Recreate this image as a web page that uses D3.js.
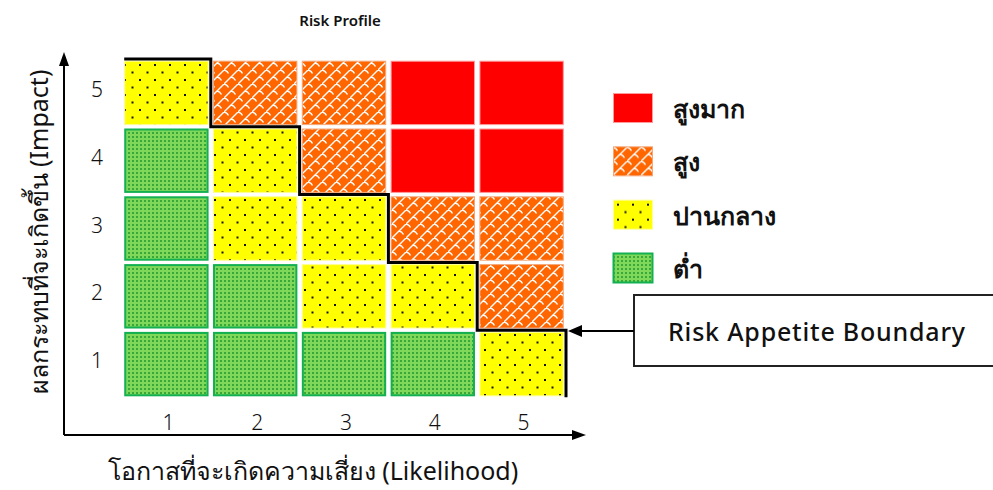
<!DOCTYPE html>
<html>
<head>
<meta charset="utf-8">
<script src="https://cdn.jsdelivr.net/npm/d3@7/dist/d3.min.js"></script>
<style>
  html, body { margin: 0; padding: 0; background: #fff; }
  svg text { font-family: "Noto Sans", "DejaVu Sans", sans-serif; fill: #111; }
</style>
</head>
<body>
<svg id="chart" width="993" height="490"></svg>
<script>
// Axis categories
const likelihood = [1, 2, 3, 4, 5];
const impact = [5, 4, 3, 2, 1];

// Risk levels (legend order) and their fill styles
const levelNames = ["สูงมาก", "สูง", "ปานกลาง", "ต่ำ"];
const levelKeys = ["vhigh", "high", "med", "low"];

// Risk level per cell, rows ordered by impact 5 → 1, columns by likelihood 1 → 5
const riskMatrix = [
  ["med", "high", "high", "vhigh", "vhigh"],
  ["low", "med",  "high", "vhigh", "vhigh"],
  ["low", "med",  "med",  "high",  "high"],
  ["low", "low",  "med",  "med",   "high"],
  ["low", "low",  "low",  "low",   "med"]
];

// Highest impact level still inside the appetite, per likelihood column
const appetiteLevel = [5, 4, 3, 2, 1];

const svg = d3.select("#chart");
const defs = svg.append("defs");

// Dotted yellow fill
const pMed = defs.append("pattern").attr("id", "p-med").attr("patternUnits", "userSpaceOnUse")
  .attr("width", 15).attr("height", 15).attr("x", 2).attr("y", 2);
pMed.append("rect").attr("width", 15).attr("height", 15).attr("fill", "#ffff00");
pMed.append("rect").attr("x", 2).attr("y", 2).attr("width", 2).attr("height", 2).attr("fill", "#111");
pMed.append("rect").attr("x", 9.5).attr("y", 9.5).attr("width", 2).attr("height", 2).attr("fill", "#111");

// Fine green grid fill
const pLow = defs.append("pattern").attr("id", "p-low").attr("patternUnits", "userSpaceOnUse")
  .attr("width", 4).attr("height", 4);
pLow.append("rect").attr("width", 4).attr("height", 4).attr("fill", "#80d85a");
pLow.append("rect").attr("width", 2).attr("height", 2).attr("fill", "#38a838");

// Orange diagonal-brick fill
const pHigh = defs.append("pattern").attr("id", "p-high").attr("patternUnits", "userSpaceOnUse")
  .attr("width", 14).attr("height", 14);
pHigh.append("rect").attr("width", 14).attr("height", 14).attr("fill", "#ff6600");
pHigh.append("path")
  .attr("d", "M-1,15 L15,-1 M7,7 Q10,7.5 11.5,10.5 M0,0 Q3,0.5 4.5,3.5 M14,14 Q17,14.5 18.5,17.5")
  .attr("stroke", "#fff").attr("stroke-width", 1.4).attr("fill", "none");

const fills = { vhigh: "#ff0000", high: "url(#p-high)", med: "url(#p-med)", low: "url(#p-low)" };
const strokes = { vhigh: "#ff9a9a", high: "#f3a77a", med: "#ffff90", low: "#12b050" };
const strokeW = { vhigh: 1, high: 1, med: 1, low: 2 };

// Scales
const x = d3.scaleBand().domain(likelihood).range([122, 566]).paddingInner(0.05).paddingOuter(0.025);
const y = d3.scaleBand().domain(impact).range([59, 398]).paddingInner(0.05).paddingOuter(0.025);

// Cells
const cells = [];
riskMatrix.forEach((row, i) => row.forEach((lvl, j) => cells.push({ imp: impact[i], lik: likelihood[j], lvl })));
svg.append("g").selectAll("rect").data(cells).join("rect")
  .attr("x", d => x(d.lik) + strokeW[d.lvl] / 2)
  .attr("y", d => y(d.imp) + strokeW[d.lvl] / 2)
  .attr("width", d => x.bandwidth() - strokeW[d.lvl])
  .attr("height", d => y.bandwidth() - strokeW[d.lvl])
  .attr("fill", d => fills[d.lvl])
  .attr("stroke", d => strokes[d.lvl])
  .attr("stroke-width", d => strokeW[d.lvl]);

// Risk appetite boundary (step line between acceptable and high cells)
const gx = x.step() * x.paddingInner() / 2;
const gy = y.step() * y.paddingInner() / 2;
const pts = [];
likelihood.forEach((l, i) => {
  const yy = y(appetiteLevel[i]) - gy;
  pts.push([x(l) - (i === 0 ? 0 : gx), yy]);
  pts.push([x(l) + x.bandwidth() + gx, yy]);
});
pts.push([x(likelihood[likelihood.length - 1]) + x.bandwidth() + gx, y(impact[impact.length - 1]) + y.bandwidth() + 1]);
svg.append("path").attr("d", d3.line()(pts))
  .attr("fill", "none").attr("stroke", "#000").attr("stroke-width", 3);

// Axes with arrowheads
const axisX0 = 64, axisY0 = 435;
svg.append("path").attr("d", `M${axisX0},${axisY0} L${axisX0},60 M${axisX0},${axisY0} L578,${axisY0}`)
  .attr("stroke", "#000").attr("stroke-width", 2).attr("fill", "none");
svg.append("path").attr("d", `M${axisX0},52 L${axisX0 - 5},66 L${axisX0 + 5},66 Z`).attr("fill", "#000");
svg.append("path").attr("d", `M586,${axisY0} L572,${axisY0 - 5} L572,${axisY0 + 5} Z`).attr("fill", "#000");

// Tick labels
svg.append("g").selectAll("text").data(likelihood).join("text")
  .attr("x", d => x(d) + x.bandwidth() / 2 + 2).attr("y", 422)
  .attr("text-anchor", "middle").attr("dominant-baseline", "central")
  .attr("font-size", 21).attr("font-weight", 300).text(d => d);
svg.append("g").selectAll("text").data(impact).join("text")
  .attr("x", 97).attr("y", d => y(d) + y.bandwidth() / 2 - 4)
  .attr("text-anchor", "middle").attr("dominant-baseline", "central")
  .attr("font-size", 21).attr("font-weight", 300).text(d => d);

// Titles
svg.append("text").attr("x", 340).attr("y", 20).attr("text-anchor", "middle")
  .attr("dominant-baseline", "central").attr("font-size", 15).attr("font-weight", 600).text("Risk Profile");
svg.append("text").attr("transform", "translate(38,232) rotate(-90)").attr("text-anchor", "middle")
  .attr("dominant-baseline", "central").attr("font-size", 25).attr("font-weight", 400)
  .text("ผลกระทบที่จะเกิดขึ้น (Impact)");
svg.append("text").attr("x", 313).attr("y", 470).attr("text-anchor", "middle")
  .attr("dominant-baseline", "central").attr("font-size", 25).attr("font-weight", 400)
  .text("โอกาสที่จะเกิดความเสี่ยง (Likelihood)");

// Legend
const legendY = d3.scalePoint().domain(levelKeys).range([108, 268]);
const lg = svg.append("g").selectAll("g").data(levelKeys).join("g")
  .attr("transform", d => `translate(613,${legendY(d)})`);
lg.append("rect").attr("x", 0.5).attr("y", -14.5).attr("width", 39).attr("height", 29)
  .attr("fill", d => fills[d]).attr("stroke", d => strokes[d]).attr("stroke-width", d => strokeW[d]);
lg.append("text").attr("x", 60).attr("y", 0).attr("dominant-baseline", "central")
  .attr("font-size", 25).attr("font-weight", 700).text((d, i) => levelNames[i]);

// Boundary callout box and arrow
const boxY = 331;
svg.append("rect").attr("x", 634).attr("y", 295).attr("width", 380).attr("height", 71)
  .attr("fill", "#fff").attr("stroke", "#222").attr("stroke-width", 2);
svg.append("text").attr("x", 668).attr("y", boxY).attr("dominant-baseline", "central")
  .attr("font-size", 25).attr("font-weight", 500).attr("letter-spacing", 0.8).text("Risk Appetite Boundary");
svg.append("path").attr("d", `M634,${boxY} L580,${boxY}`).attr("stroke", "#000").attr("stroke-width", 2);
svg.append("path").attr("d", `M568,${boxY} L582,${boxY - 6} L582,${boxY + 6} Z`).attr("fill", "#000");
</script>
</body>
</html>
